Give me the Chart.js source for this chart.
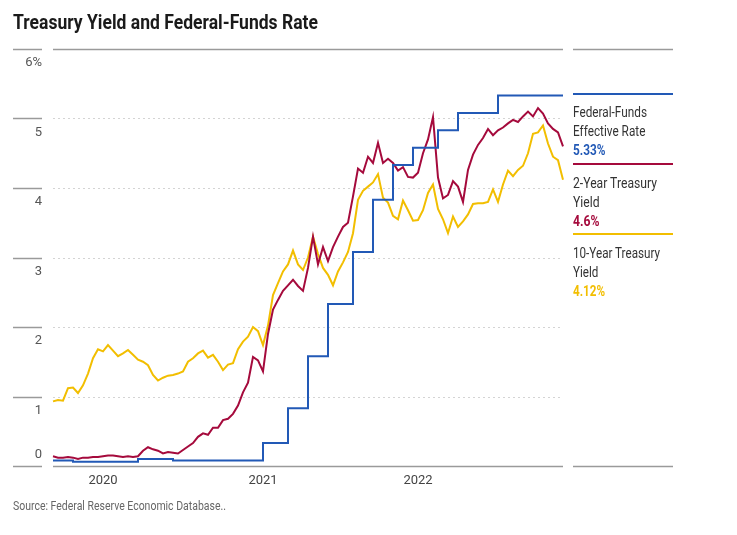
<!DOCTYPE html>
<html>
<head>
<meta charset="utf-8">
<script src="https://cdn.jsdelivr.net/npm/chart.js@4"></script>
<style>
body{margin:0;background:#fff;font-family:Roboto,'Noto Sans',sans-serif;}
#wrap{position:relative;width:737px;height:535px;overflow:hidden;}
#myChart{position:absolute;left:0;top:0;}
.t{position:absolute;white-space:nowrap;transform-origin:0 0;}
.ley{position:absolute;left:573px;font-size:14px;line-height:19px;color:#333;white-space:nowrap;transform-origin:0 0;}
.raya{position:absolute;left:573px;width:100px;height:2px;}
</style>
</head>
<body>
<div id="wrap">
<canvas id="myChart" width="737" height="535"></canvas>
<div class="t" data-w="305" style="left:13px;top:11px;font-size:20px;line-height:22px;font-weight:bold;color:#1a1a1a">Treasury Yield and Federal-Funds Rate</div>
<div class="raya" style="top:93px;background:#2259b6"></div>
<div class="raya" style="top:163px;background:#a50a3c"></div>
<div class="raya" style="top:233px;background:#f2be00"></div>
<div class="ley" data-w="74" style="top:103px">Federal-Funds<br>Effective Rate<br><b style="color:#2259b6">5.33%</b></div>
<div class="ley" data-w="84" style="top:174px">2-Year Treasury<br>Yield<br><b style="color:#a50a3c">4.6%</b></div>
<div class="ley" data-w="87" style="top:244px">10-Year Treasury<br>Yield<br><b style="color:#f2be00">4.12%</b></div>
<div class="t" data-w="213" style="left:13px;top:499px;font-size:12px;line-height:14px;color:#666">Source: Federal Reserve Economic Database..</div>
</div>
<script>
// etiquetas del eje x (una muestra cada ~semana y media)
var anios = ['2020', '2021', '2022'];
var posAnios = [10, 42, 73];

var fedFunds = [
  0.08, 0.08, 0.08, 0.08, 0.08, 0.06, 0.06, 0.06, 0.06, 0.06,
  0.06, 0.06, 0.06, 0.06, 0.06, 0.06, 0.06, 0.06, 0.10, 0.10,
  0.10, 0.10, 0.10, 0.10, 0.10, 0.08, 0.08, 0.08, 0.08, 0.08,
  0.08, 0.08, 0.08, 0.08, 0.08, 0.08, 0.08, 0.08, 0.08, 0.08,
  0.08, 0.08, 0.08, 0.33, 0.33, 0.33, 0.33, 0.33, 0.83, 0.83,
  0.83, 0.83, 1.58, 1.58, 1.58, 1.58, 2.33, 2.33, 2.33, 2.33,
  2.33, 3.08, 3.08, 3.08, 3.08, 3.83, 3.83, 3.83, 3.83, 4.33,
  4.33, 4.33, 4.33, 4.58, 4.58, 4.58, 4.58, 4.58, 4.83, 4.83,
  4.83, 4.83, 5.08, 5.08, 5.08, 5.08, 5.08, 5.08, 5.08, 5.08,
  5.33, 5.33, 5.33, 5.33, 5.33, 5.33, 5.33, 5.33, 5.33, 5.33,
  5.33, 5.33, 5.33
];

var dosAnios = [
  0.14, 0.12, 0.12, 0.13, 0.12, 0.10, 0.12, 0.12, 0.13, 0.13,
  0.14, 0.15, 0.15, 0.14, 0.13, 0.14, 0.13, 0.14, 0.22, 0.27,
  0.24, 0.22, 0.18, 0.20, 0.19, 0.18, 0.23, 0.28, 0.33, 0.42,
  0.47, 0.45, 0.55, 0.55, 0.66, 0.68, 0.75, 0.87, 1.06, 1.20,
  1.57, 1.52, 1.36, 1.90, 2.25, 2.39, 2.52, 2.60, 2.68, 2.59,
  2.52, 2.85, 3.30, 2.90, 3.15, 2.95, 3.15, 3.30, 3.44, 3.50,
  3.88, 4.28, 4.22, 4.45, 4.36, 4.65, 4.36, 4.42, 4.36, 4.25,
  4.30, 4.16, 4.15, 4.22, 4.50, 4.70, 5.02, 4.15, 3.85, 3.90,
  4.10, 4.02, 3.80, 4.26, 4.48, 4.62, 4.72, 4.85, 4.76, 4.83,
  4.87, 4.93, 4.98, 4.95, 5.03, 5.10, 5.03, 5.15, 5.07, 4.93,
  4.85, 4.80, 4.60
];

var diezAnios = [
  0.93, 0.95, 0.94, 1.12, 1.13, 1.05, 1.16, 1.33, 1.55, 1.68,
  1.65, 1.74, 1.66, 1.58, 1.62, 1.67, 1.60, 1.53, 1.50, 1.45,
  1.31, 1.23, 1.27, 1.30, 1.31, 1.33, 1.36, 1.50, 1.55, 1.62,
  1.66, 1.56, 1.60, 1.50, 1.38, 1.46, 1.48, 1.68, 1.79, 1.86,
  2.00, 1.94, 1.74, 2.02, 2.46, 2.63, 2.80, 2.90, 3.10, 2.90,
  2.82, 3.00, 3.30, 3.05, 2.85, 2.75, 2.60, 2.80, 2.93, 3.08,
  3.35, 3.83, 3.96, 4.02, 4.08, 4.20, 3.86, 3.79, 3.60, 3.55,
  3.82, 3.68, 3.53, 3.54, 3.68, 3.93, 4.05, 3.70, 3.55, 3.35,
  3.59, 3.44, 3.52, 3.62, 3.77, 3.78, 3.78, 3.80, 3.98, 3.80,
  4.05, 4.25, 4.17, 4.26, 4.32, 4.50, 4.78, 4.80, 4.90, 4.64,
  4.45, 4.40, 4.12
];

var etiquetas = fedFunds.map(function(v, i){
  var k = posAnios.indexOf(i);
  return k >= 0 ? anios[k] : '';
});

// la letra original es condensada: se estrecha el texto hasta su ancho
document.querySelectorAll('[data-w]').forEach(function(el){
  var w = el.getBoundingClientRect().width;
  if (el.classList.contains('ley')) {
    var r = document.createRange();
    r.selectNodeContents(el);
    r.setEnd(el.firstChild, el.firstChild.length);
    w = r.getBoundingClientRect().width;
  }
  el.style.transform = 'scaleX(' + (parseFloat(el.dataset.w) / w) + ')';
});

var fuente = "Roboto,'Noto Sans',sans-serif";

// lineas guia: tramos a la izquierda, reticula punteada, bordes de arriba y abajo
var lineasGuia = {
  id: 'lineasGuia',
  beforeDatasetsDraw: function(chart){
    var ctx = chart.ctx, y = chart.scales.y, area = chart.chartArea;
    ctx.save();
    y.ticks.forEach(function(t){
      var py = Math.round(y.getPixelForValue(t.value)) + 0.5;
      ctx.setLineDash([]);
      ctx.lineWidth = 1.5;
      ctx.strokeStyle = '#9a9a9a';
      ctx.beginPath();
      ctx.moveTo(13, py); ctx.lineTo(42, py);
      ctx.stroke();
      if (t.value === 0 || t.value === 6) {
        ctx.beginPath();
        ctx.moveTo(area.left, py); ctx.lineTo(area.right, py);
        ctx.moveTo(area.right + 10, py); ctx.lineTo(area.right + 110, py);
        ctx.stroke();
      } else {
        ctx.lineWidth = 1;
        ctx.strokeStyle = '#d4d4d4';
        ctx.setLineDash([2, 3]);
        ctx.beginPath();
        ctx.moveTo(area.left, py); ctx.lineTo(area.right, py);
        ctx.stroke();
      }
    });
    // el cero va encima de la linea base
    ctx.fillStyle = '#555';
    ctx.font = '13px ' + fuente;
    ctx.textAlign = 'right';
    ctx.textBaseline = 'middle';
    ctx.fillText('0', 42, y.getPixelForValue(0) - 11);
    ctx.restore();
  }
};

var myChart = document.getElementById('myChart');

var grafica = new Chart(myChart, {
  type: 'line',
  data: {
    labels: etiquetas,
    datasets: [
      {
        label: 'Federal-Funds Effective Rate',
        data: fedFunds,
        borderColor: '#2259b6',
        borderWidth: 2,
        stepped: 'after',
        pointRadius: 0
      },
      {
        label: '2-Year Treasury Yield',
        data: dosAnios,
        borderColor: '#a50a3c',
        borderWidth: 2,
        pointRadius: 0
      },
      {
        label: '10-Year Treasury Yield',
        data: diezAnios,
        borderColor: '#f2be00',
        borderWidth: 2,
        pointRadius: 0
      }
    ]
  },
  options: {
    responsive: false,
    animation: false,
    layout: { padding: { left: 0, top: 49, right: 174, bottom: 0 } },
    plugins: {
      legend: { display: false },
      tooltip: { enabled: false }
    },
    scales: {
      x: {
        grid: { display: false, drawTicks: false },
        border: { display: false },
        ticks: {
          autoSkip: false,
          maxRotation: 0,
          padding: 7,
          color: '#444',
          font: { family: fuente, size: 13 }
        },
        afterFit: function(s){ s.height = 69; }
      },
      y: {
        min: 0,
        max: 6,
        grid: { display: false, drawTicks: false },
        border: { display: false },
        ticks: {
          stepSize: 1,
          padding: 11,
          labelOffset: 14,
          color: '#555',
          font: { family: fuente, size: 13 },
          callback: function(v){ return v === 6 ? '6%' : (v === 0 ? '' : v); }
        },
        afterFit: function(s){ s.width = 53; }
      }
    }
  },
  plugins: [lineasGuia]
});
</script>
</body>
</html>
